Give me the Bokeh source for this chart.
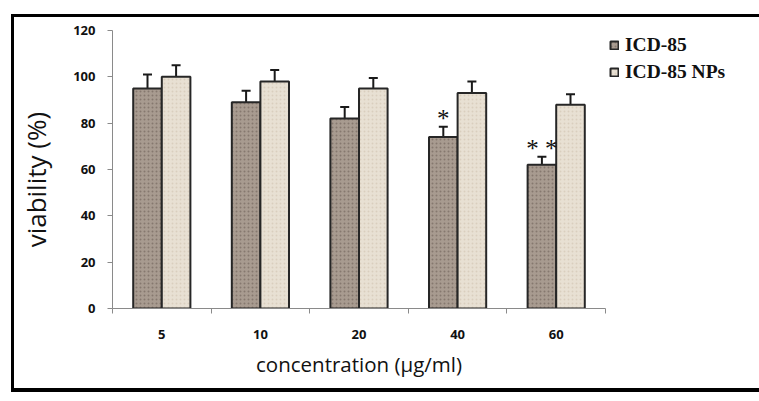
from bokeh.plotting import figure
from bokeh.models import (ColumnDataSource, Range1d, LinearAxis,
                          FixedTicker, Whisker, TeeHead, Legend, LegendItem)
from bokeh.transform import dodge
from bokeh.core.properties import value
from bokeh.embed import file_html
from bokeh.resources import INLINE

# ---- data ----
concentrations = ["5", "10", "20", "40", "60"]
icd85 = [95, 89, 82, 74, 62]
icd85_err = [6, 5, 5, 4.5, 3.5]
icd85_nps = [100, 98, 95, 93, 88]
icd85_nps_err = [5, 5, 4.5, 5, 4.5]
significance = ["", "", "", "*", "* *"]
y_ticks = [0, 20, 40, 60, 80, 100, 120]
series_names = ["ICD-85", "ICD-85 NPs"]
x_title = "concentration (µg/ml)"
y_title = "viability (%)"

n = len(concentrations)
centres = [i + 0.5 for i in range(n)]
edges = list(range(n + 1))
icd_top = [v + e for v, e in zip(icd85, icd85_err)]
src = ColumnDataSource(dict(
    xc=centres,
    icd=icd85,
    icd_top=icd_top,
    nps=icd85_nps,
    nps_top=[v + e for v, e in zip(icd85_nps, icd85_nps_err)],
))
marked = [i for i, s in enumerate(significance) if s]
sig_src = ColumnDataSource(dict(
    xc=[centres[i] for i in marked],
    y=[icd_top[i] for i in marked],
    sig=[significance[i] for i in marked],
))

GRAY = "#8a8a8a"
TICK_FONT = "Open Sans"

p = figure(x_range=Range1d(0, n), y_range=Range1d(0, 120),
           frame_width=493, frame_height=278,
           min_border_left=98, min_border_right=140, min_border_top=13, min_border_bottom=80,
           x_axis_location=None, output_backend="svg", toolbar_location=None, tools="")
p.outline_line_color = None
p.grid.visible = False
p.background_fill_color = None
p.border_fill_color = None
# outer frame of the whole chart (CSS border on the figure element)
p.styles = {"margin-left": "11px", "margin-top": "14px", "box-sizing": "content-box",
            "border-style": "solid", "border-color": "black",
            "border-width": "3px 4px 4px 3px", "background-color": "white"}

# y axis
ya = p.yaxis[0]
ya.ticker = FixedTicker(ticks=y_ticks)
ya.axis_line_color = GRAY
ya.major_tick_line_color = GRAY
ya.major_tick_in = 0
ya.major_tick_out = 5
ya.minor_tick_line_color = None
ya.major_label_standoff = 12
ya.major_label_text_font = TICK_FONT
ya.major_label_text_font_style = "bold"
ya.major_label_text_font_size = "13px"
ya.major_label_text_color = "#111111"
# trailing no-break spaces shift the title slightly below centre, as in the reference
ya.axis_label = y_title + "\u00a0" * 3
ya.axis_label_standoff = 16
ya.axis_label_text_font = "Open Sans"
ya.axis_label_text_font_style = "normal"
ya.axis_label_text_font_size = "26px"
ya.axis_label_text_color = "#111111"

# x axis: minor tick marks at category edges, labels at category centres
xa = LinearAxis(ticker=FixedTicker(ticks=centres, minor_ticks=edges),
                major_label_overrides={c: lab for c, lab in zip(centres, concentrations)},
                axis_line_color=GRAY, major_tick_line_color=None,
                major_tick_in=0, major_tick_out=0,
                minor_tick_line_color=GRAY, minor_tick_in=0, minor_tick_out=5,
                major_label_standoff=16,
                major_label_text_font=TICK_FONT, major_label_text_font_style="bold",
                major_label_text_font_size="13px", major_label_text_color="#111111",
                axis_label=x_title,
                axis_label_text_font="Open Sans", axis_label_text_font_style="normal",
                axis_label_text_font_size="20.5px", axis_label_text_color="#111111",
                axis_label_standoff=8)
p.add_layout(xa, "below")

# bars
r1 = p.vbar(x=dodge("xc", -0.145), top="icd", width=0.29, source=src,
            fill_color="#a89b90", line_color="#262626", line_width=2,
            hatch_pattern="dot", hatch_color="#5a4e46", hatch_scale=4, hatch_weight=1, hatch_alpha=0.45)
r2 = p.vbar(x=dodge("xc", 0.145), top="nps", width=0.29, source=src,
            fill_color="#e8e0d3", line_color="#262626", line_width=2,
            hatch_pattern="dot", hatch_color="#c9bba9", hatch_scale=4, hatch_weight=1, hatch_alpha=0.5)

# error bars (upper only)
for xoff, lo, hi in [(-0.145, "icd", "icd_top"), (0.145, "nps", "nps_top")]:
    w = Whisker(base=dodge("xc", xoff), lower=lo, upper=hi, source=src,
                line_color="#1a1a1a", line_width=2,
                upper_head=TeeHead(size=9, line_color="#1a1a1a", line_width=2), lower_head=None)
    p.add_layout(w)

# significance marks
p.text(x=dodge("xc", -0.145), y="y", text="sig", source=sig_src,
       text_align="center", text_baseline="middle", y_offset=-8,
       text_font=value("Liberation Serif"), text_font_size="25px", text_color="#111111")

legend = Legend(items=[LegendItem(label=series_names[0], renderers=[r1]),
                       LegendItem(label=series_names[1], renderers=[r2])],
                location="top_left", glyph_width=10, glyph_height=10, label_standoff=6,
                label_height=16, spacing=5, padding=0, margin=4,
                border_line_color=None, background_fill_alpha=0,
                label_text_font="Liberation Serif", label_text_font_style="bold",
                label_text_font_size="19.5px", label_text_color="#111111")
p.add_layout(legend, "right")

open("out.html", "w").write(file_html(p, INLINE))
